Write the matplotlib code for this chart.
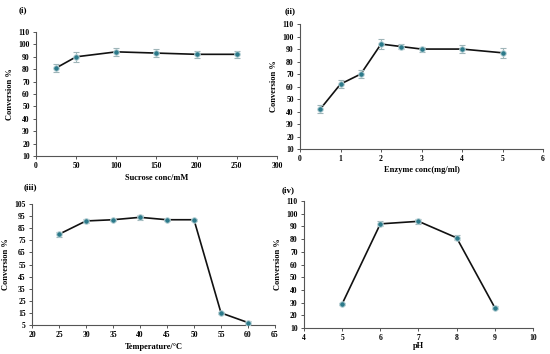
import matplotlib
matplotlib.use("Agg")
import matplotlib.pyplot as plt

# Panel (i)
sucrose_x = [25, 50, 100, 150, 200, 250]
sucrose_y = [81, 90, 94, 93, 92, 92]
sucrose_err = [3, 4, 3, 3, 3, 3]

# Panel (ii)
enzyme_x = [0.5, 1, 1.5, 2, 2.5, 3, 4, 5]
enzyme_y = [42, 62, 70, 94, 92, 90, 90, 87]
enzyme_err = [3, 3, 3, 4, 2, 2, 3, 4]

# Panel (iii)
temp_x = [25, 30, 35, 40, 45, 50, 55, 60]
temp_y = [80, 91, 92, 94, 92, 92, 15, 7]
temp_err = [2, 2, 1, 2, 1, 1, 1, 1]

# Panel (iv)
ph_x = [5, 6, 7, 8, 9]
ph_y = [29, 92, 94, 81, 26]
ph_err = [1, 2, 2, 2, 1]

plt.rcParams['font.family'] = ['Liberation Serif', 'DejaVu Serif']
plt.rcParams['font.weight'] = 'bold'

fig = plt.figure(figsize=(5.5, 3.54), dpi=100)

panels = [
    dict(rect=[0.0655, 0.5593, 0.438, 0.3503], x=sucrose_x, y=sucrose_y, e=sucrose_err,
         xlim=(0, 300), xt=range(0, 301, 50), ylim=(10, 110), yt=range(10, 111, 10),
         xl="Sucrose conc/mM", tag="(i)", tagpos=(0.042, 0.972), xlpad=3),
    dict(rect=[0.5455, 0.579, 0.4418, 0.353], x=enzyme_x, y=enzyme_y, e=enzyme_err,
         xlim=(0, 6), xt=range(0, 7), ylim=(10, 110), yt=range(10, 111, 10),
         xl="Enzyme conc(mg/ml)", tag="(ii)", tagpos=(0.527, 0.968), xlpad=2),
    dict(rect=[0.0582, 0.0819, 0.4418, 0.3418], x=temp_x, y=temp_y, e=temp_err,
         xlim=(20, 65), xt=range(20, 66, 5), ylim=(5, 105), yt=range(5, 106, 10),
         xl="Temperature/\u00b0C", tag="(iii)", tagpos=(0.055, 0.47), xlpad=3),
    dict(rect=[0.5527, 0.0734, 0.4164, 0.3588], x=ph_x, y=ph_y, e=ph_err,
         xlim=(4, 10), xt=range(4, 11), ylim=(10, 110), yt=range(10, 111, 10),
         xl="pH", tag="(iv)", tagpos=(0.524, 0.462), xlpad=0),
]

for p in panels:
    ax = fig.add_axes(p['rect'])
    ax.plot(p['x'], p['y'], color='#111111', lw=1.2, zorder=2)
    ax.errorbar(p['x'], p['y'], yerr=p['e'], fmt='none', ecolor='#9fb5b8',
                elinewidth=0.8, capsize=2, capthick=0.8, zorder=3)
    ax.plot(p['x'], p['y'], 'o', ms=4, mfc='#2c7a8a', mec='#bcd4d8', mew=0.7, zorder=4)
    ax.set_xlim(*p['xlim'])
    ax.set_ylim(*p['ylim'])
    ax.set_xticks(list(p['xt']))
    ax.set_yticks(list(p['yt']))
    for s in ['top', 'right']:
        ax.spines[s].set_visible(False)
    for s in ['left', 'bottom']:
        ax.spines[s].set_color('#555555')
        ax.spines[s].set_linewidth(0.8)
    ax.tick_params(axis='both', labelsize=5.5, direction='out', length=2.5,
                   width=0.7, color='#555555', pad=2)
    for lab in ax.get_xticklabels() + ax.get_yticklabels():
        lab.set_fontweight('bold')
    ax.set_ylabel("Conversion %", fontsize=6, fontweight='bold', labelpad=3)
    ax.set_xlabel(p['xl'], fontsize=6, fontweight='bold', labelpad=p['xlpad'])
    fig.text(p['tagpos'][0], p['tagpos'][1], p['tag'], fontsize=6.5,
             fontweight='bold', ha='center', va='center')

fig.savefig("out.png", dpi=100)
